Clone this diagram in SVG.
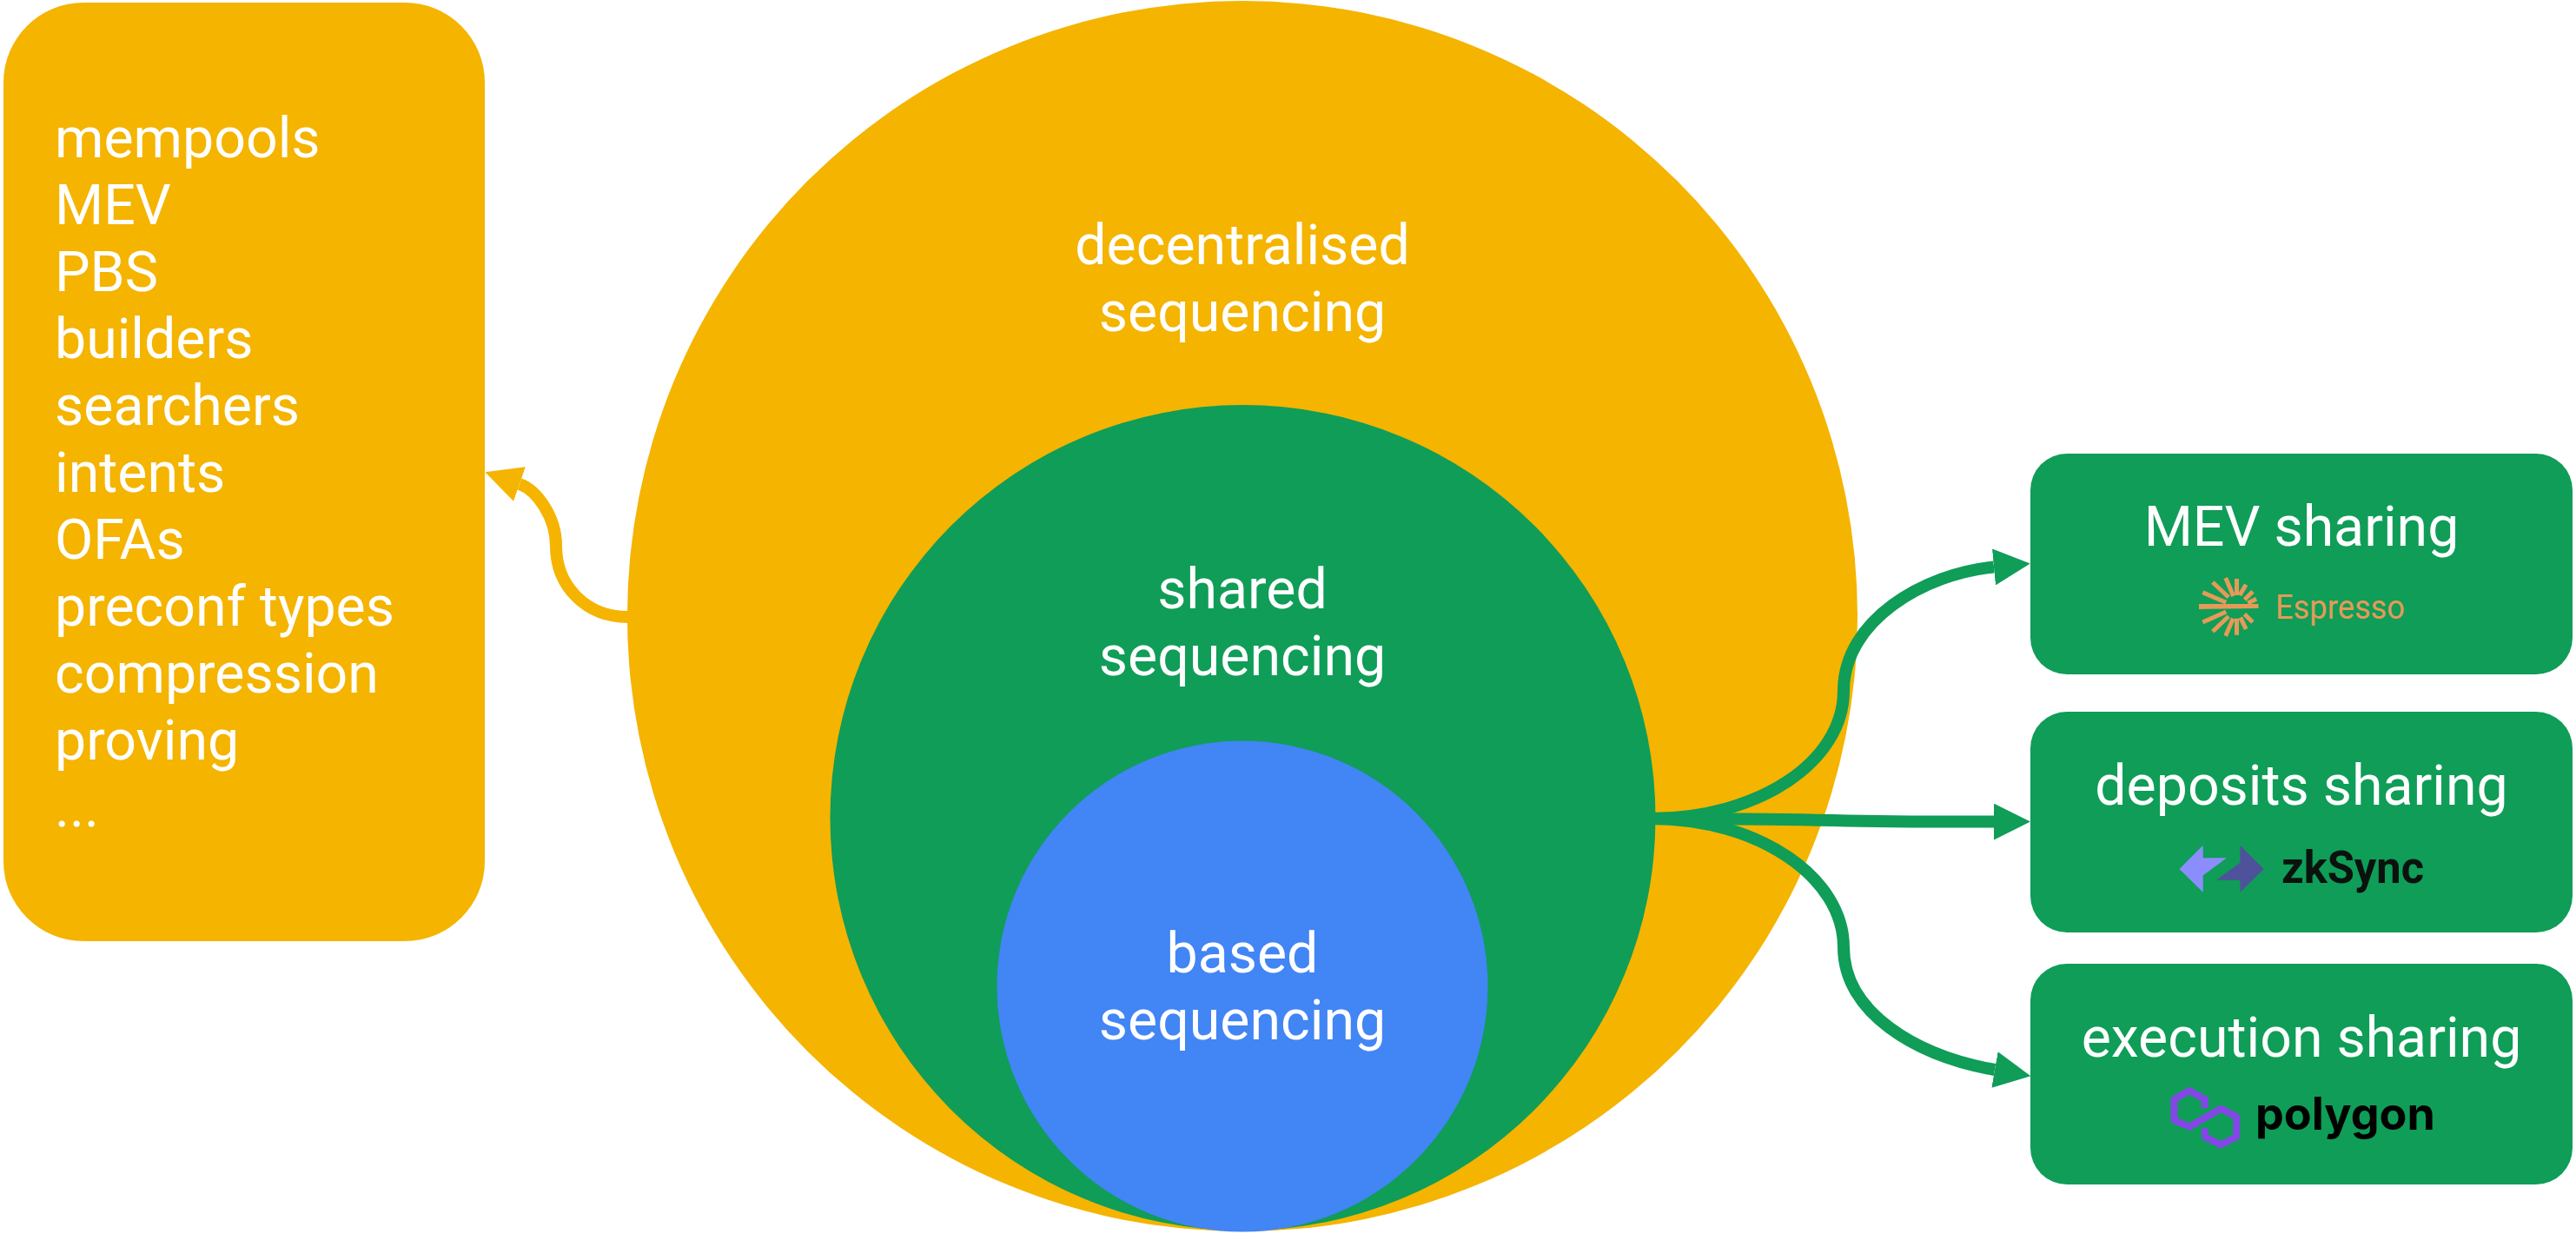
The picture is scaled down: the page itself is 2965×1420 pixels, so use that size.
<svg xmlns="http://www.w3.org/2000/svg" width="2965" height="1420" viewBox="0 0 2965 1420">
<style>
text{font-family:Roboto,"Liberation Sans",sans-serif;font-size:64.4px;fill:#fff}
.m{text-anchor:middle}
.y{fill:#F4B400}.g{fill:#0F9D58}.b{fill:#4285F4}
.cg{fill:none;stroke:#0F9D58;stroke-width:14}
.cy{fill:none;stroke:#F4B400;stroke-width:14}
.ray{stroke:#E59A58;stroke-width:5;fill:none}
</style>
<defs>
<marker id="ag" markerUnits="userSpaceOnUse" markerWidth="42" markerHeight="42" viewBox="0 0 42 42" refX="0" refY="21" orient="auto"><polygon points="0,0 42,21 0,42" fill="#0F9D58"/></marker>
<marker id="ay" markerUnits="userSpaceOnUse" markerWidth="42" markerHeight="42" viewBox="0 0 42 42" refX="0" refY="21" orient="auto"><polygon points="0,0 42,21 0,42" fill="#F4B400"/></marker>
</defs>
<rect width="2965" height="1420" fill="#fff"/>
<g id="node-list">
<rect class="y" x="4" y="3" width="554" height="1080" rx="92"/>
<text x="63" y="181">mempools</text>
<text x="63" y="258">MEV</text>
<text x="63" y="335">PBS</text>
<text x="63" y="412">builders</text>
<text x="63" y="489">searchers</text>
<text x="63" y="566">intents</text>
<text x="63" y="643">OFAs</text>
<text x="63" y="720">preconf types</text>
<text x="63" y="797">compression</text>
<text x="63" y="874">proving</text>
<text x="63" y="951">...</text>
</g>
<g id="node-decentralised">
<circle class="y" cx="1430" cy="709" r="708"/>
<text class="m" x="1430" y="303.5">decentralised</text>
<text class="m" x="1430" y="380.5">sequencing</text>
</g>
<g id="connectors">
<path class="cy" d="M723 710C675 710 640 675 640 628C640 595 618 564 598 557" marker-end="url(#ay)"/>
<path class="cg" d="M1900 942C2025 942 2122 876 2122 795C2122 714 2215 660 2295 652.5" marker-end="url(#ag)"/>
<path class="cg" d="M1900 942C2000 942 2030 942 2110 944C2190 946 2240 945.6 2295 945.6" marker-end="url(#ag)"/>
<path class="cg" d="M1900 942C2025 942 2122 1010 2122 1090C2122 1165 2205 1215 2296 1231" marker-end="url(#ag)"/>
</g>
<g id="node-shared">
<circle class="g" cx="1430.5" cy="941" r="475"/>
<text class="m" x="1430" y="699.5">shared</text>
<text class="m" x="1430" y="776.5">sequencing</text>
</g>
<g id="node-based">
<circle class="b" cx="1430" cy="1135" r="282.5"/>
<text class="m" x="1430" y="1119">based</text>
<text class="m" x="1430" y="1196">sequencing</text>
</g>
<g id="node-mev">
<rect class="g" x="2337" y="522" width="624" height="254" rx="42"/>
<text class="m" x="2649" y="628">MEV sharing</text>
<g transform="translate(-1.5 0)">
<path class="ray" d="M2576 666V685M2563.2 665L2572.2 686M2548.3 670L2566.6 687.3M2536.8 681.7L2563.7 693.3M2586.7 672.7L2579.4 685M2594.4 680.7L2585 690M2598.6 689.3L2588.8 694M2536.8 716L2563.7 704M2548.3 726.7L2566.6 709.3M2563.2 731.7L2571.8 711.7M2576 730.7V711.7M2586.7 724L2580.3 710.7M2594.4 716L2585 706.7"/>
<path d="M2532.5 695H2601V700L2532.5 701Z" fill="#E59A58"/>
</g>
<text x="2619" y="712" textLength="149" lengthAdjust="spacingAndGlyphs" style="font-size:39px;fill:#E59A58">Espresso</text>
</g>
<g id="node-deposits">
<rect class="g" x="2337" y="819" width="624" height="254" rx="42"/>
<text class="m" x="2649" y="926">deposits sharing</text>
<g transform="translate(-1.5 0)">
<polygon points="2510,1000 2537.2,972.7 2537.2,987.3 2564.5,987.3 2537.2,1007.3 2537.2,1026.7" fill="#8C8DFC"/>
<polygon points="2607.2,1000 2579.9,972.7 2579.9,992.7 2552.6,1012.7 2579.9,1012.7 2579.9,1026.7" fill="#4E529A"/>
</g>
<text x="2626" y="1016" textLength="164" lengthAdjust="spacingAndGlyphs" style="font-size:52px;font-weight:700;fill:#0A120E">zkSync</text>
</g>
<g id="node-execution">
<rect class="g" x="2337" y="1109" width="624" height="254" rx="42"/>
<text class="m" x="2649" y="1216">execution sharing</text>
<path transform="translate(-1 0)" d="M2538.9 1275V1265L2521 1255L2503.5 1265V1289L2521 1296.7L2557.3 1275.7L2575.2 1285V1308.3L2557.3 1317.3L2538.9 1308.3V1298.3" fill="none" stroke="#8247E5" stroke-width="8" stroke-linejoin="round"/>
<text x="2596" y="1300" style="font-family:Inter,sans-serif;font-size:52px;font-weight:700;fill:#000">polygon</text>
</g>
</svg>
